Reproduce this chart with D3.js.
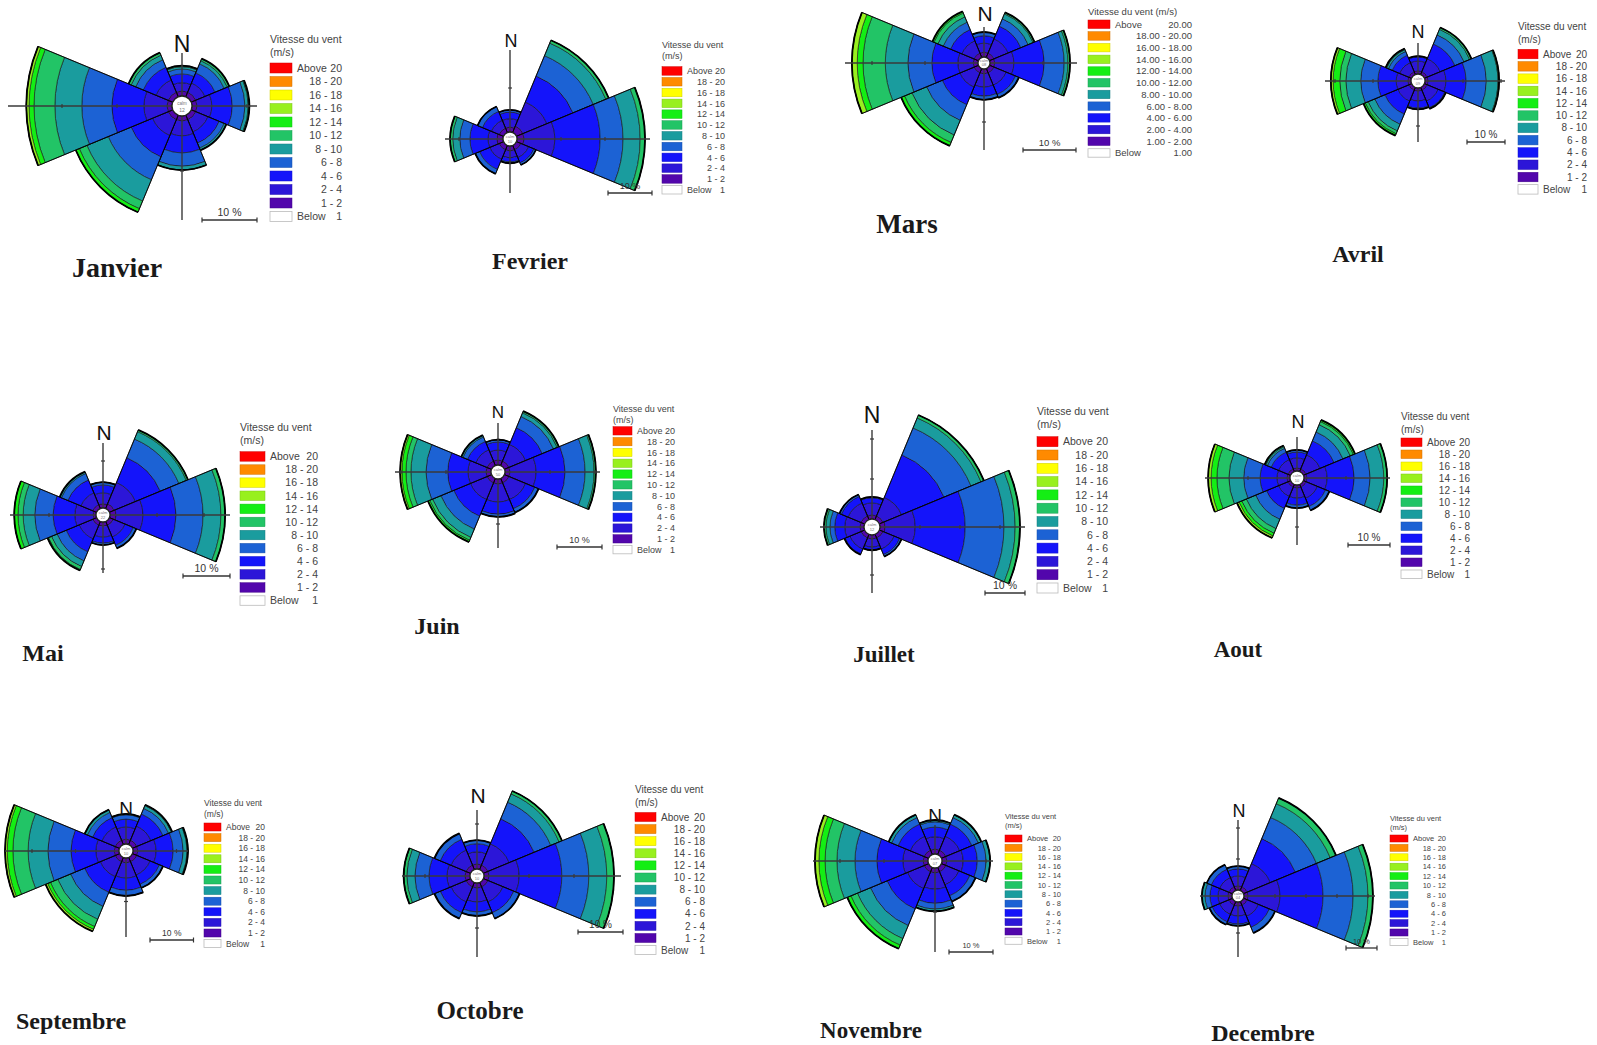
<!DOCTYPE html>
<html><head><meta charset="utf-8">
<script src="https://cdn.jsdelivr.net/npm/d3@7"></script>
<style>html,body{margin:0;padding:0;background:#fff;}svg{display:block;}</style>
</head><body>
<svg id="chart" width="1597" height="1045"></svg>
<script>
// ---------- data ----------
const directions = ["N","NE","E","SE","S","SW","W","NW"];
const speedClasses = ["1 - 2","2 - 4","4 - 6","6 - 8","8 - 10","10 - 12","12 - 14","14 - 16","16 - 18","18 - 20","Above 20"];
const speedClassesDecimal = ["1.00 - 2.00","2.00 - 4.00","4.00 - 6.00","6.00 - 8.00","8.00 - 10.00","10.00 - 12.00","12.00 - 14.00","14.00 - 16.00","16.00 - 18.00","18.00 - 20.00","Above 20.00"];
const belowLabel = ["Below","1"];
const belowLabelDecimal = ["Below","1.00"];
const classColors = ["#5206ac","#2c16d8","#1414fa","#1c62d4","#1a9c9e","#22c466","#14ee14","#98f01e","#ffff00","#ff8a00","#ff0000"];
const months = ["Janvier","Fevrier","Mars","Avril","Mai","Juin","Juillet","Aout","Septembre","Octobre","Novembre","Decembre"];
const calms = ["12","10","08","09","22","50","12","10","10","10","07","04"];

// frequency (%) per direction (N..NW) per speed class (1-2, 2-4, ...)
const janvier = [
  [0.9,1.5,1.6,0.9,0.4,0.2],
  [0.9,1.8,2.0,1.8,0.6,0.4],
  [0.9,2.7,3.7,2.3,0.6,0.2],
  [0.9,2.4,2.2,1.0,0.4],
  [0.9,2.7,3.1,2.4,0.7],
  [0.9,3.1,4.2,4.5,4.2,1.5,0.7],
  [0.9,4.2,5.8,5.5,4.9,3.8,0.9,0.5],
  [0.9,2.4,2.5,1.5,0.9,0.5]
];
const fevrier = [
  [1.1,1.9,1.5,0.5],
  [1.6,5.9,6.4,5.0,3.1,0.7],
  [1.6,7.0,10.3,5.2,3.9,1.1],
  [1.1,1.9,1.3,0.5],
  [1.1,1.6,0.9,0.3],
  [1.1,2.3,2.5,1.1],
  [1.4,2.0,4.1,2.3,1.6,0.6],
  [1.1,1.9,2.2,1.2]
];
const mars = [
  [0.9,1.7,1.4,0.7],
  [0.9,2.9,2.6,1.5,1.0,0.3],
  [0.9,3.6,5.7,3.8,0.7,0.4],
  [0.9,2.5,1.9,0.7],
  [0.9,2.5,1.7,0.7],
  [0.9,2.9,3.6,3.2,3.0,1.5,0.7],
  [0.9,2.9,4.9,4.5,4.3,4.2,1.1,1.0],
  [0.9,2.5,2.3,1.5,1.1,0.8,0.3]
];
const avril = [
  [0.8,2.6,1.1,0.2],
  [0.8,3.7,4.2,2.6,1.6,0.5],
  [0.8,4.7,5.3,5.3,3.1,0.3],
  [0.8,3.1,1.9,0.3],
  [0.8,2.6,1.9,0.3],
  [0.8,3.1,3.7,2.9,1.9,0.8,0.5],
  [0.8,3.1,4.8,4.5,3.9,1.6,1.8,0.6],
  [0.8,2.6,2.1,1.1,0.5,0.3]
];
const mai = [
  [0.9,2.3,1.7,0.6],
  [1.1,4.9,5.7,4.3,1.7,0.4],
  [1.3,5.7,7.0,5.8,3.8,0.9],
  [0.9,2.7,1.9,0.7],
  [0.9,2.3,1.3,0.4],
  [0.9,3.1,3.0,2.1,1.3,0.7,0.2],
  [0.6,3.9,4.6,3.9,2.5,1.1,0.8],
  [0.9,2.7,3.0,1.5,0.4]
];
const juin = [
  [1.1,2.2,1.8,0.5],
  [1.1,4.0,4.0,2.7,0.9,0.4],
  [1.1,5.8,6.4,4.5,2.0,0.4],
  [1.1,4.0,2.2,0.9],
  [1.1,4.0,2.7,0.6],
  [1.1,4.0,4.0,3.1,2.0,0.7,0.4],
  [1.1,4.0,4.5,4.8,3.4,1.1,0.9,0.4],
  [1.1,2.7,2.0,1.1,0.4]
];
const juillet = [
  [1.0,3.0,1.3,0.2],
  [1.0,5.0,11.5,7.3,2.7,0.8],
  [1.3,7.5,12.5,9.7,2.8,1.2],
  [1.0,3.0,1.5,0.5],
  [1.0,2.0,0.8],
  [1.0,3.0,1.3,0.2],
  [1.0,3.8,2.5,1.2,1.0,0.5],
  [1.0,3.5,1.8,0.5]
];
const aout = [
  [0.7,2.4,1.4,0.5],
  [0.7,3.6,3.6,2.3,1.9,0.8,0.4],
  [0.7,4.8,6.4,3.8,3.3,0.8],
  [0.7,2.9,2.1,1.0],
  [0.7,2.4,1.7,0.7],
  [0.7,2.4,3.1,2.8,2.4,1.2,0.7,0.5],
  [0.7,2.4,4.0,3.9,3.5,2.9,1.4,0.7],
  [0.7,2.4,1.9,1.0,0.4,0.3]
];
const septembre = [
  [1.1,2.8,1.8,1.0,0.2],
  [1.1,3.5,3.0,1.4,0.7,0.2],
  [1.1,4.2,3.9,2.3,0.9,0.2],
  [1.1,3.3,2.3,0.9],
  [1.1,3.5,2.8,1.3],
  [1.1,3.7,3.9,3.5,3.2,1.8,0.7,0.5],
  [1.1,4.2,5.7,5.3,4.6,3.5,1.3,0.5],
  [1.1,3.3,2.3,1.3,0.7]
];
const octobre = [
  [1.1,2.7,1.8,0.8],
  [1.1,5.1,6.0,4.0,2.0,0.7],
  [1.1,6.7,9.5,6.0,4.0,1.6],
  [1.1,3.6,2.6,1.4],
  [1.1,3.1,2.2,0.9],
  [1.1,3.6,2.6,1.4],
  [1.1,4.0,4.0,3.1,1.8,0.7],
  [1.1,3.6,2.6,1.4]
];
const novembre = [
  [1.1,2.8,2.2,1.2,0.4],
  [1.1,3.4,3.0,1.6,0.7],
  [1.1,3.7,3.2,2.0,0.9],
  [1.1,3.2,2.7,1.4],
  [1.1,3.7,3.2,1.3,0.5],
  [1.1,4.1,5.0,4.1,3.2,1.6,0.9],
  [1.1,4.6,5.9,5.0,4.1,2.7,1.4,0.9],
  [1.1,3.4,3.0,1.6,0.7]
];
const decembre = [
  [1.3,3.2,2.3,0.9],
  [1.3,8.1,8.7,7.4,4.8,2.0],
  [1.3,10.3,13.9,9.7,4.8,1.6],
  [1.3,3.9,3.8,2.0],
  [1.3,3.2,2.6,0.6],
  [1.3,3.2,2.6,1.0],
  [1.3,3.2,2.6,1.6,1.0],
  [1.3,3.2,2.9,1.6]
];
const monthData = [janvier,fevrier,mars,avril,mai,juin,juillet,aout,septembre,octobre,novembre,decembre];

// ---------- layout (positions / sizes) ----------
const layout = [
 {cx:182,cy:106,r0:10,k:5.5,ax:[174,75,53,114],n:[182,52,23],bar:[202,220],lg:{x:270,ty:43,top:63,step:13.5,sw:22,sh:10,lr:342,fs:10.5},lab:[117,277,28]},
 {cx:510,cy:139,r0:7,k:4.4,ax:[65,140,89,54],n:[511,47,18],bar:[608,193],lg:{x:662,ty:48,top:66.7,step:10.8,sw:20,sh:8.5,lr:725,fs:9},lab:[530,269,24]},
 {cx:984,cy:63,r0:6,k:5.3,ax:[139,93,36,87],n:[985,21,21],bar:[1023,150],lg:{x:1088,ty:15,top:20,step:11.7,sw:22,sh:8.5,lr:1192,fs:9.5,oneLine:true,dec:true},lab:[907,233,27]},
 {cx:1418,cy:81,r0:7,k:3.8,ax:[93,87,38,61],n:[1418,38,18],bar:[1467,142],lg:{x:1518,ty:30,top:49.3,step:12.3,sw:20,sh:9.5,lr:1587,fs:10},lab:[1358,262,24]},
 {cx:103,cy:515,r0:7,k:4.7,ax:[93,127,72,58],n:[104,440,21],bar:[183,576],lg:{x:240,ty:431,top:451.7,step:13.1,sw:25,sh:9.5,lr:318,fs:10.5},lab:[43,661,24]},
 {cx:498,cy:472,r0:7,k:4.5,ax:[103,102,49,76],n:[498,418,17],bar:[557,547],lg:{x:613,ty:412,top:426.7,step:10.8,sw:19,sh:8.3,lr:675,fs:9},lab:[437,634,24]},
 {cx:872,cy:527,r0:8,k:4.0,ax:[52,153,97,66],n:[872,423,23],bar:[985,593],lg:{x:1037,ty:415,top:436.7,step:13.3,sw:21,sh:10,lr:1108,fs:10.5},lab:[884,662,23]},
 {cx:1297,cy:478,r0:7,k:4.2,ax:[92,93,41,67],n:[1298,428,18],bar:[1348,545],lg:{x:1401,ty:420,top:438,step:12,sw:21,sh:8.5,lr:1470,fs:10},lab:[1238,657,23]},
 {cx:126,cy:851,r0:7,k:4.35,ax:[121,62,31,86],n:[126,815,19],bar:[150,940],lg:{x:204,ty:806,top:823,step:10.6,sw:17,sh:8,lr:265,fs:8.5},lab:[71,1029,24]},
 {cx:477,cy:876,r0:7,k:4.5,ax:[75,144,66,81],n:[478,803,21],bar:[578,932],lg:{x:635,ty:793,top:812.5,step:12.1,sw:21,sh:9,lr:705,fs:10},lab:[480,1019,25]},
 {cx:935,cy:861,r0:7,k:4.4,ax:[122,58,36,91],n:[935,822,19],bar:[949,952],lg:{x:1005,ty:819,top:835,step:9.3,sw:17,sh:7,lr:1061,fs:7.5},lab:[871,1038,23]},
 {cx:1238,cy:896,r0:6,k:3.1,ax:[38,137,76,61],n:[1239,817,18],bar:[1346,948],lg:{x:1390,ty:821,top:835,step:9.4,sw:18,sh:7,lr:1446,fs:7.5},lab:[1263,1041,24]}
];

// ---------- drawing ----------
const svg = d3.select("#chart");
const arc = d3.arc();
const sans = "'Liberation Sans', Arial, sans-serif";
const serif = "'Liberation Serif', 'Times New Roman', serif";
const angle = d3.scaleLinear().domain([0, directions.length]).range([0, 2*Math.PI]);

months.forEach((name, m) => {
  const L = layout[m];
  const data = monthData[m];
  const r = d3.scaleLinear().domain([0, 10]).range([L.r0, L.r0 + 10*L.k]);
  const g = svg.append("g").attr("transform", `translate(${L.cx},${L.cy})`);

  // wedges
  data.forEach((freqs, i) => {
    const a0 = angle(i - 0.5), a1 = angle(i + 0.5);
    const cum = d3.cumsum(freqs);
    g.selectAll(null).data(freqs).join("path")
      .attr("d", (f, j) => arc({innerRadius: r(j ? cum[j-1] : 0), outerRadius: r(cum[j]), startAngle: a0, endAngle: a1}))
      .attr("fill", (f, j) => classColors[j])
      .attr("stroke", "#151515").attr("stroke-width", 0.6);
    const R = r(cum[cum.length-1]);
    // outer edge of the wedge (thicker dark rim)
    g.append("path")
      .attr("d", arc({innerRadius: R, outerRadius: R, startAngle: a0, endAngle: a1}))
      .attr("fill", "none").attr("stroke", "#000").attr("stroke-width", 1.8);
    g.append("path")
      .attr("d", arc({innerRadius: L.r0, outerRadius: R, startAngle: a0, endAngle: a1}))
      .attr("fill", "none").attr("stroke", "#000").attr("stroke-width", 0.9);
  });

  // cross axes with ticks
  const [aL, aR, aT, aB] = L.ax;
  const axc = "#3a3a3a";
  g.append("line").attr("x1", -aL).attr("x2", aR).attr("y1", 0).attr("y2", 0).attr("stroke", axc).attr("stroke-width", 1.4);
  g.append("line").attr("x1", 0).attr("x2", 0).attr("y1", -aT).attr("y2", aB).attr("stroke", axc).attr("stroke-width", 1.4);
  const tickVals = d3.range(10, 60, 10);
  tickVals.forEach(v => {
    const rr = r(v);
    if (rr < aL - 3) g.append("line").attr("x1", -rr).attr("x2", -rr).attr("y1", -2).attr("y2", 2).attr("stroke", axc).attr("stroke-width", 1.2);
    if (rr < aR - 3) g.append("line").attr("x1", rr).attr("x2", rr).attr("y1", -2).attr("y2", 2).attr("stroke", axc).attr("stroke-width", 1.2);
    if (rr < aT - 3) g.append("line").attr("y1", -rr).attr("y2", -rr).attr("x1", -2).attr("x2", 2).attr("stroke", axc).attr("stroke-width", 1.2);
    if (rr < aB - 3) g.append("line").attr("y1", rr).attr("y2", rr).attr("x1", -2).attr("x2", 2).attr("stroke", axc).attr("stroke-width", 1.2);
  });

  // calm circle
  g.append("circle").attr("r", L.r0).attr("fill", "#fff").attr("stroke", "#222").attr("stroke-width", 1.3);
  g.append("text").attr("y", -1).attr("text-anchor", "middle").attr("font-family", sans)
    .attr("font-size", Math.max(4, L.r0*0.45)).attr("fill", "#777").text("calm");
  g.append("text").attr("y", L.r0*0.55).attr("text-anchor", "middle").attr("font-family", sans)
    .attr("font-size", Math.max(4, L.r0*0.5)).attr("fill", "#777").text(calms[m]);

  // N label
  svg.append("text").attr("x", L.n[0]).attr("y", L.n[1]).attr("text-anchor", "middle")
    .attr("font-family", sans).attr("font-size", L.n[2]).attr("fill", "#111").text("N");

  // scale bar (10 %)
  const barLen = r(10) - r(0);
  const bx = L.bar[0], by = L.bar[1];
  svg.append("line").attr("x1", bx).attr("x2", bx + barLen).attr("y1", by).attr("y2", by).attr("stroke", "#333").attr("stroke-width", 1.3);
  [bx, bx + barLen].forEach(x => svg.append("line").attr("x1", x).attr("x2", x).attr("y1", by - 2.5).attr("y2", by + 2.5).attr("stroke", "#333").attr("stroke-width", 1.2));
  svg.append("text").attr("x", bx + barLen/2).attr("y", by - 4).attr("text-anchor", "middle")
    .attr("font-family", sans).attr("font-size", L.lg.fs).attr("fill", "#333").text("10 %");

  // legend
  const lg = L.lg;
  const lgG = svg.append("g").attr("font-family", sans).attr("fill", "#444").attr("font-size", lg.fs);
  if (lg.oneLine) {
    lgG.append("text").attr("x", lg.x).attr("y", lg.ty).text("Vitesse du vent (m/s)");
  } else {
    lgG.append("text").attr("x", lg.x).attr("y", lg.ty).text("Vitesse du vent");
    lgG.append("text").attr("x", lg.x).attr("y", lg.ty + lg.fs*1.25).text("(m/s)");
  }
  const labels = lg.dec ? speedClassesDecimal : speedClasses;
  const order = d3.range(speedClasses.length).reverse();
  order.forEach((j, idx) => {
    const y = lg.top + idx*lg.step;
    lgG.append("rect").attr("x", lg.x).attr("y", y).attr("width", lg.sw).attr("height", lg.sh)
      .attr("fill", classColors[j]).attr("stroke", d3.color(classColors[j]).darker(0.6)).attr("stroke-width", 0.5);
    const ty = y + lg.sh/2 + lg.fs*0.36;
    if (j === speedClasses.length - 1) {
      const parts = labels[j].split(" ");
      lgG.append("text").attr("x", lg.x + lg.sw + 5).attr("y", ty).text(parts[0]);
      lgG.append("text").attr("x", lg.lr).attr("y", ty).attr("text-anchor", "end").text(parts[1]);
    } else {
      lgG.append("text").attr("x", lg.lr).attr("y", ty).attr("text-anchor", "end").text(labels[j]);
    }
  });
  const yb = lg.top + speedClasses.length*lg.step;
  const bl = lg.dec ? belowLabelDecimal : belowLabel;
  lgG.append("rect").attr("x", lg.x).attr("y", yb).attr("width", lg.sw).attr("height", lg.sh)
    .attr("fill", "#fff").attr("stroke", "#bbb").attr("stroke-width", 0.8);
  const tyb = yb + lg.sh/2 + lg.fs*0.36;
  lgG.append("text").attr("x", lg.x + lg.sw + 5).attr("y", tyb).text(bl[0]);
  lgG.append("text").attr("x", lg.lr).attr("y", tyb).attr("text-anchor", "end").text(bl[1]);

  // month label
  svg.append("text").attr("x", L.lab[0]).attr("y", L.lab[1]).attr("text-anchor", "middle")
    .attr("font-family", serif).attr("font-weight", "bold").attr("font-size", L.lab[2]).attr("fill", "#1a1a1a").text(name);
});
</script>
</body></html>
